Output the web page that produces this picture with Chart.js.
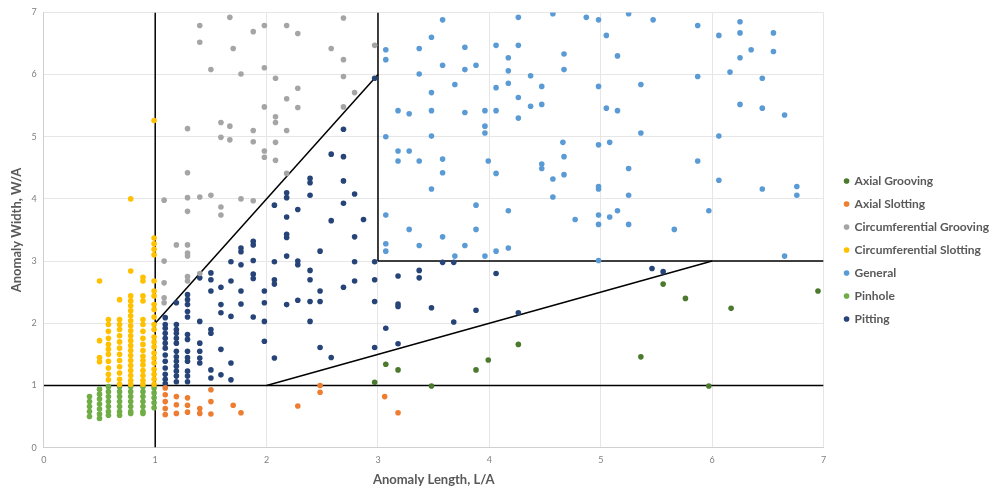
<!DOCTYPE html>
<html>
<head>
<meta charset="utf-8">
<script src="https://cdn.jsdelivr.net/npm/chart.js@4.4.1/dist/chart.umd.min.js"></script>
<style>
  html, body { margin: 0; padding: 0; background: #fff; }
</style>
</head>
<body>
<canvas id="myChart" width="992" height="490"></canvas>
<script>
const ctx = document.getElementById('myChart');

// points as [L/A, W/A]
const axialGrooving = [
  [2.97, 1.05], [3.07, 1.34], [3.18, 1.25], [3.48, 0.99], [3.88, 1.25], [3.99, 1.41],
  [4.26, 1.66], [5.36, 1.46], [5.56, 2.63], [5.76, 2.40], [5.97, 0.99], [6.17, 2.24],
  [6.95, 2.52]
];

const axialSlotting = [
  [1.09, 0.96], [1.09, 0.85], [1.09, 0.74], [1.09, 0.63], [1.09, 0.53],
  [1.19, 0.82], [1.19, 0.69], [1.19, 0.55],
  [1.29, 0.80], [1.29, 0.68], [1.29, 0.57],
  [1.40, 0.63], [1.40, 0.55],
  [1.50, 0.93], [1.50, 0.74], [1.50, 0.54],
  [1.70, 0.68], [1.77, 0.56], [2.28, 0.67], [2.48, 1.00], [2.48, 0.89],
  [3.06, 0.82], [3.18, 0.56]
];

const circGrooving = [
  [1.40, 6.79], [1.67, 6.92], [1.88, 6.69], [1.98, 6.79], [2.18, 6.79], [2.28, 6.66],
  [2.69, 6.91], [1.40, 6.52], [1.70, 6.42], [2.58, 6.42], [2.97, 6.47], [2.69, 6.24],
  [1.50, 6.08], [1.77, 6.01], [1.98, 6.11], [2.08, 5.94], [2.69, 5.97], [2.28, 5.78],
  [2.18, 5.61], [2.79, 5.71], [1.98, 5.48], [2.28, 5.47], [2.69, 5.48], [2.08, 5.32],
  [2.08, 5.23], [1.59, 5.23], [1.67, 5.17], [1.29, 5.13], [1.88, 5.10], [2.18, 5.10],
  [1.59, 4.99], [1.67, 4.95], [1.88, 4.92], [2.08, 4.91], [1.98, 4.77], [1.98, 4.67],
  [2.08, 4.62], [1.29, 4.42], [2.18, 4.41], [1.08, 3.98], [1.29, 4.02], [1.40, 4.03],
  [1.50, 4.06], [1.77, 4.00], [1.88, 3.97], [1.29, 3.80], [1.59, 3.87], [1.59, 3.74],
  [1.19, 3.26], [1.29, 3.26], [1.29, 3.13], [1.29, 3.08], [1.08, 3.00], [1.08, 2.65],
  [1.29, 2.75], [1.29, 2.68], [1.08, 2.41], [1.08, 2.33], [1.40, 2.80]
];

const circSlotting = [
  [0.50, 2.68], [0.50, 1.72], [0.50, 1.45], [0.50, 1.38],
  [0.58, 2.06], [0.58, 1.98], [0.58, 1.87], [0.58, 1.76], [0.58, 1.66], [0.58, 1.58],
  [0.58, 1.50], [0.58, 1.39], [0.58, 1.28], [0.58, 1.18], [0.58, 1.09],
  [0.68, 2.38], [0.68, 2.06], [0.68, 1.98], [0.68, 1.90], [0.68, 1.80], [0.68, 1.70],
  [0.68, 1.60], [0.68, 1.50], [0.68, 1.40], [0.68, 1.30], [0.68, 1.20], [0.68, 1.10], [0.68, 1.02],
  [0.78, 4.00], [0.78, 2.84], [0.78, 2.44], [0.78, 2.36], [0.78, 2.28], [0.78, 2.20],
  [0.78, 2.12], [0.78, 2.04], [0.78, 1.96], [0.78, 1.88], [0.78, 1.80], [0.78, 1.72],
  [0.78, 1.64], [0.78, 1.56], [0.78, 1.48], [0.78, 1.40], [0.78, 1.32], [0.78, 1.24],
  [0.78, 1.16], [0.78, 1.08], [0.78, 1.02],
  [0.89, 2.74], [0.89, 2.68], [0.89, 2.44], [0.89, 2.36], [0.89, 2.06], [0.89, 1.98],
  [0.89, 1.87], [0.89, 1.76], [0.89, 1.66], [0.89, 1.56], [0.89, 1.47], [0.89, 1.40],
  [0.89, 1.33], [0.89, 1.24], [0.89, 1.16], [0.89, 1.08], [0.89, 1.02],
  [0.99, 5.26], [0.99, 3.37], [0.99, 3.28], [0.99, 3.19], [0.99, 3.10], [0.99, 2.68],
  [0.99, 2.52], [0.99, 2.44], [0.99, 2.30], [0.99, 2.22], [0.99, 2.10], [0.99, 1.98],
  [0.99, 1.90], [0.99, 1.78], [0.99, 1.70], [0.99, 1.62], [0.99, 1.52], [0.99, 1.44],
  [0.99, 1.36], [0.99, 1.26], [0.99, 1.18], [0.99, 1.10], [0.99, 1.02]
];

const general = [
  [3.07, 6.40], [3.07, 6.24], [3.58, 6.88], [3.48, 6.60], [3.37, 6.42], [3.78, 6.44],
  [4.26, 6.92], [4.57, 6.98], [4.87, 6.92], [4.98, 6.88], [5.25, 6.98], [5.47, 6.88],
  [5.87, 6.79], [6.25, 6.85], [6.25, 6.67], [6.55, 6.67], [6.06, 6.63], [6.35, 6.40],
  [6.55, 6.37], [6.25, 6.27], [6.16, 6.04], [6.45, 5.94], [5.87, 5.97], [5.05, 6.63],
  [5.15, 6.30], [4.67, 6.33], [4.67, 6.08], [4.26, 6.47], [4.06, 6.47], [4.17, 6.27],
  [4.17, 6.06], [4.17, 5.86], [4.06, 5.79], [4.37, 5.98], [4.47, 5.81], [4.26, 5.63],
  [4.37, 5.49], [4.47, 5.52], [4.26, 5.30], [3.88, 6.15], [3.78, 6.08], [3.58, 6.15],
  [3.37, 6.01], [3.69, 5.84], [3.48, 5.71], [3.48, 5.42], [3.18, 5.42], [3.28, 5.37],
  [3.78, 5.39], [3.96, 5.42], [4.06, 5.42], [3.96, 5.17], [3.96, 5.06], [3.07, 5.00],
  [3.48, 5.01], [3.18, 4.77], [3.28, 4.77], [3.18, 4.61], [3.37, 4.61], [3.58, 4.64],
  [3.58, 4.42], [3.99, 4.61], [4.06, 4.41], [3.48, 4.16], [3.88, 3.90], [4.17, 3.81],
  [3.07, 3.74], [3.28, 3.51], [3.88, 3.51], [3.58, 3.39], [3.37, 3.25], [3.78, 3.25],
  [3.07, 3.28], [3.07, 3.16], [3.69, 3.08], [3.96, 3.08], [4.06, 3.16], [4.17, 3.21],
  [4.66, 4.91], [4.67, 4.68], [4.67, 4.39], [4.47, 4.56], [4.47, 4.49], [4.57, 4.32],
  [4.57, 4.03], [4.98, 5.81], [5.05, 5.46], [5.15, 5.42], [5.36, 5.84], [5.36, 5.06],
  [4.98, 4.87], [5.08, 4.91], [4.98, 4.20], [4.98, 4.16], [5.25, 4.49], [5.25, 4.06],
  [4.77, 3.67], [4.98, 3.74], [4.98, 3.59], [5.08, 3.71], [5.15, 3.81], [5.25, 3.59],
  [5.66, 3.51], [5.87, 4.61], [5.97, 3.81], [6.06, 5.01], [6.06, 4.30], [6.25, 5.52],
  [6.45, 5.46], [6.65, 5.35], [6.45, 4.16], [6.76, 4.20], [6.76, 4.06], [6.65, 3.08],
  [4.98, 3.01]
];

const pinhole = [
  [0.41, 0.82], [0.41, 0.74], [0.41, 0.66], [0.41, 0.58], [0.41, 0.50],
  [0.50, 0.94], [0.50, 0.86], [0.50, 0.78], [0.50, 0.70], [0.50, 0.62], [0.50, 0.54], [0.50, 0.47],
  [0.58, 0.98], [0.58, 0.90], [0.58, 0.82], [0.58, 0.74], [0.58, 0.66], [0.58, 0.58], [0.58, 0.52],
  [0.68, 0.98], [0.68, 0.90], [0.68, 0.82], [0.68, 0.74], [0.68, 0.66], [0.68, 0.58], [0.68, 0.52],
  [0.78, 0.98], [0.78, 0.90], [0.78, 0.82], [0.78, 0.74], [0.78, 0.66], [0.78, 0.58], [0.78, 0.55],
  [0.89, 0.98], [0.89, 0.90], [0.89, 0.82], [0.89, 0.74], [0.89, 0.66], [0.89, 0.58], [0.89, 0.55],
  [0.99, 0.96], [0.99, 0.88], [0.99, 0.80], [0.99, 0.72], [0.99, 0.64]
];

const pitting = [
  [1.09, 2.09], [1.09, 1.98], [1.09, 1.92], [1.09, 1.84], [1.09, 1.76], [1.09, 1.68],
  [1.09, 1.60], [1.09, 1.49], [1.09, 1.39], [1.09, 1.28], [1.09, 1.18], [1.09, 1.10], [1.09, 1.03],
  [1.19, 2.33], [1.19, 1.98], [1.19, 1.90], [1.19, 1.84], [1.19, 1.76], [1.19, 1.68],
  [1.19, 1.55], [1.19, 1.46], [1.19, 1.39], [1.19, 1.31], [1.19, 1.23], [1.19, 1.15], [1.19, 1.06],
  [1.29, 2.46], [1.29, 2.38], [1.29, 2.30], [1.29, 2.19], [1.29, 2.10], [1.29, 1.82],
  [1.29, 1.74], [1.29, 1.55], [1.29, 1.45], [1.29, 1.39], [1.29, 1.23], [1.29, 1.15], [1.29, 1.06],
  [1.40, 2.73], [1.40, 2.03], [1.40, 1.68], [1.40, 1.55], [1.40, 1.44], [1.40, 1.36],
  [1.50, 2.81], [1.50, 2.70], [1.50, 2.52], [1.50, 1.90], [1.50, 1.84], [1.50, 1.25], [1.50, 1.12],
  [1.59, 2.58], [1.59, 2.30], [1.59, 2.17], [1.59, 1.58], [1.59, 1.17],
  [1.68, 2.99], [1.68, 2.68], [1.68, 2.11], [1.68, 1.36], [1.68, 1.09],
  [1.77, 3.21], [1.77, 3.15], [1.77, 2.94], [1.77, 2.52], [1.77, 2.31],
  [1.88, 3.32], [1.88, 3.26], [1.88, 3.01], [1.88, 2.79], [1.88, 2.72], [1.88, 2.10],
  [1.98, 2.52], [1.98, 2.33], [1.98, 2.03], [1.98, 1.71],
  [2.07, 3.90], [2.07, 2.99], [2.07, 2.70], [2.07, 2.63], [2.07, 1.44],
  [2.18, 4.10], [2.18, 4.02], [2.18, 3.71], [2.18, 3.43], [2.18, 3.38], [2.18, 3.08], [2.18, 2.30],
  [2.28, 3.83], [2.28, 3.00], [2.28, 2.94], [2.28, 2.37],
  [2.39, 4.33], [2.39, 4.26], [2.39, 4.06], [2.39, 2.85], [2.39, 2.70], [2.39, 2.35], [2.39, 2.03],
  [2.48, 3.16], [2.48, 2.52], [2.48, 2.35], [2.48, 1.61],
  [2.58, 4.72], [2.58, 3.65], [2.58, 1.45],
  [2.69, 5.12], [2.69, 4.68], [2.69, 4.29], [2.69, 3.93], [2.69, 2.58],
  [2.79, 4.08], [2.79, 3.39], [2.79, 2.99], [2.79, 2.68], [2.87, 3.67],
  [2.97, 5.94], [2.97, 2.99], [2.97, 2.70], [2.97, 2.35], [2.97, 1.61],
  [3.07, 1.92], [3.18, 2.76], [3.18, 2.31], [3.18, 2.27], [3.18, 1.67],
  [3.37, 2.85], [3.37, 2.73], [3.48, 2.25], [3.58, 2.98], [3.68, 2.98], [3.68, 2.02],
  [3.88, 2.21], [4.06, 2.80], [4.26, 2.17], [5.46, 2.88], [5.56, 2.83]
];

// category boundary lines, ends as [L/A, W/A]
const boundaries = [
  [[1, 0], [1, 7]],
  [[3, 3], [3, 7]],
  [[0, 1], [7, 1]],
  [[3, 3], [7, 3]],
  [[1, 2], [3, 6]],
  [[2, 1], [6, 3]]
];

const seriesNames = ['Axial Grooving', 'Axial Slotting', 'Circumferential Grooving',
  'Circumferential Slotting', 'General', 'Pinhole', 'Pitting'];
const seriesData = [axialGrooving, axialSlotting, circGrooving, circSlotting, general, pinhole, pitting];
const seriesColors = ['#4b7a2e', '#ed7d31', '#a5a5a5', '#ffc000', '#5b9bd5', '#70ad47', '#264478'];

const toXY = pts => pts.map(p => ({ x: p[0], y: p[1] }));

let datasets = [];
for (let i = 0; i < seriesNames.length; i++) {
  datasets.push({
    label: seriesNames[i],
    data: toXY(seriesData[i]),
    backgroundColor: seriesColors[i],
    borderColor: seriesColors[i],
    borderWidth: 0,
    pointRadius: 2.8,
    pointHoverRadius: 2.8
  });
}
for (let b of boundaries) {
  datasets.push({
    label: '_line',
    boundary: true,
    data: toXY(b),
    showLine: true,
    borderColor: '#000',
    borderWidth: 1.5,
    pointRadius: 0,
    fill: false
  });
}

// nudge the legend block a little right and down, like the original
const legendNudge = {
  id: 'legendNudge',
  afterLayout(chart) {
    const lg = chart.legend;
    lg.left += 10; lg.right += 10;
    lg.top += 4; lg.bottom += 4;
  }
};

const tickFont = { family: 'Lato', size: 9 };
const titleFont = { family: 'Lato', size: 13, weight: 'bold' };

new Chart(ctx, {
  type: 'scatter',
  data: { datasets: datasets },
  plugins: [legendNudge],
  options: {
    responsive: false,
    animation: false,
    layout: { padding: { top: 2, left: 0, right: 3, bottom: 0 } },
    plugins: {
      tooltip: { enabled: false },
      legend: {
        position: 'right',
        align: 'center',
        labels: {
          filter: (item, data) => !data.datasets[item.datasetIndex].boundary,
          usePointStyle: true,
          pointStyle: 'circle',
          boxWidth: 4,
          boxHeight: 4,
          padding: 11,
          color: '#595959',
          font: { family: 'Lato', size: 12, weight: 'bold' }
        }
      }
    },
    scales: {
      x: {
        type: 'linear',
        min: 0,
        max: 7,
        ticks: { stepSize: 1, color: '#808080', font: tickFont, padding: 7 },
        grid: { color: '#e6e6e6', drawTicks: false },
        border: { color: '#d0d0d0' },
        title: { display: true, text: 'Anomaly Length, L/A', color: '#595959', font: titleFont, padding: { top: 0, bottom: 2 } }
      },
      y: {
        type: 'linear',
        min: 0,
        max: 7,
        ticks: { stepSize: 1, color: '#808080', font: tickFont, padding: 7 },
        grid: { color: '#e6e6e6', drawTicks: false },
        border: { color: '#d0d0d0' },
        title: { display: true, text: 'Anomaly Width, W/A', color: '#595959', font: titleFont, padding: { top: 9, bottom: 0 } }
      }
    }
  }
});
</script>
</body>
</html>
